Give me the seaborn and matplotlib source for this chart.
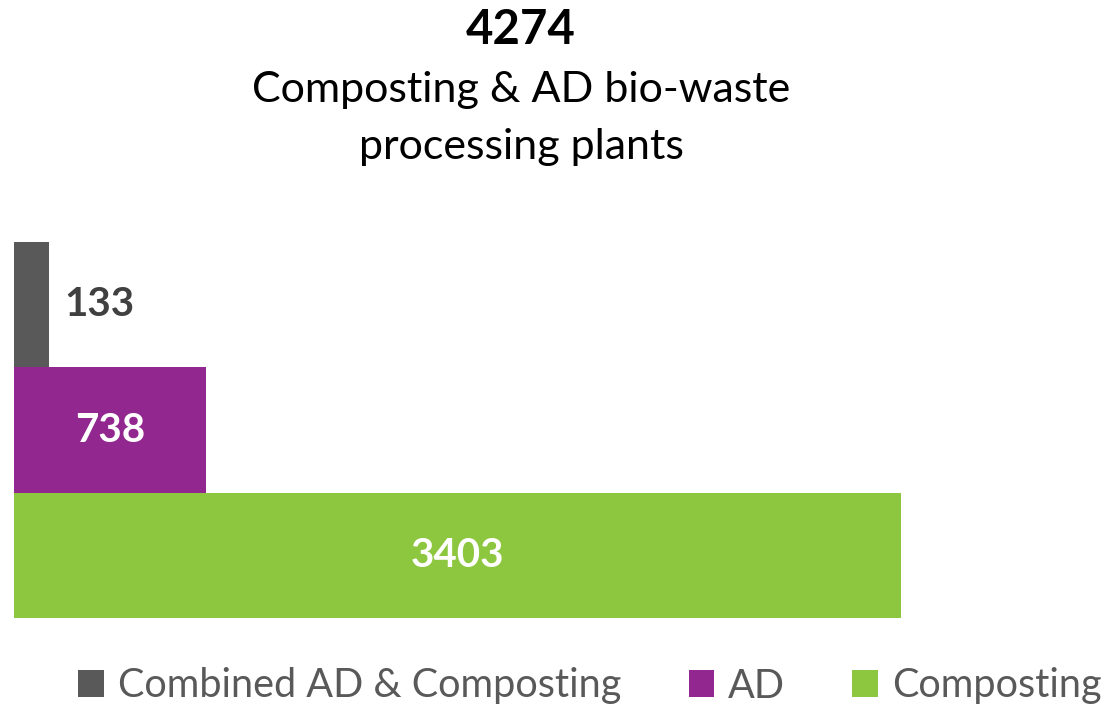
import matplotlib
matplotlib.use("Agg")
import matplotlib.pyplot as plt
import seaborn as sns
import pandas as pd
from matplotlib.patches import Patch

categories = ["Combined AD & Composting", "AD", "Composting"]
values = [133, 738, 3403]
total = 4274
title_lines = ["Composting & AD bio-waste", "processing plants"]
colors = ["#595959", "#92278F", "#8DC63F"]

sns.set_theme(style="white")
plt.rcParams["font.family"] = ["Lato", "DejaVu Sans"]

df = pd.DataFrame({"category": categories, "value": values})

W, H = 1110, 706
fig = plt.figure(figsize=(W / 100, H / 100), dpi=100)
ax = fig.add_axes([14 / W, (H - 618) / H, (901 - 14) / W, (618 - 242) / H])
sns.barplot(data=df, x="value", y="category", hue="category", palette=colors,
            order=categories, hue_order=categories, orient="h", width=1.0,
            legend=False, ax=ax, saturation=1, linewidth=0)
ax.set_xlim(0, values[2])
ax.set_ylim(2.5, -0.5)
ax.axis("off")

# data labels
ax.text(values[0] + 60, 0, str(values[0]), ha="left", va="center",
        fontsize=29, fontweight="bold", color="#404040")
for i in (1, 2):
    ax.text(values[i] / 2, i, str(values[i]), ha="center", va="center",
            fontsize=29, fontweight="bold", color="white")

# titles
fig.text(521 / W, 1 - 30 / H, str(total), ha="center", va="center",
         fontsize=34, fontweight="bold", color="black")
fig.text(521 / W, 1 - 90 / H, title_lines[0], ha="center", va="center",
         fontsize=31, color="black")
fig.text(521 / W, 1 - 147 / H, title_lines[1], ha="center", va="center",
         fontsize=31, color="black")

handles = [Patch(facecolor=c, edgecolor="none") for c in colors]
leg = fig.legend(handles, categories, loc="center", bbox_to_anchor=(590 / W, 1 - 686 / H),
                 ncol=3, frameon=False, fontsize=28.5, handlelength=0.65, handleheight=0.65,
                 handletextpad=0.35, columnspacing=1.7, labelcolor="#595959",
                 borderpad=0, borderaxespad=0)

fig.savefig("out.png", dpi=100)
